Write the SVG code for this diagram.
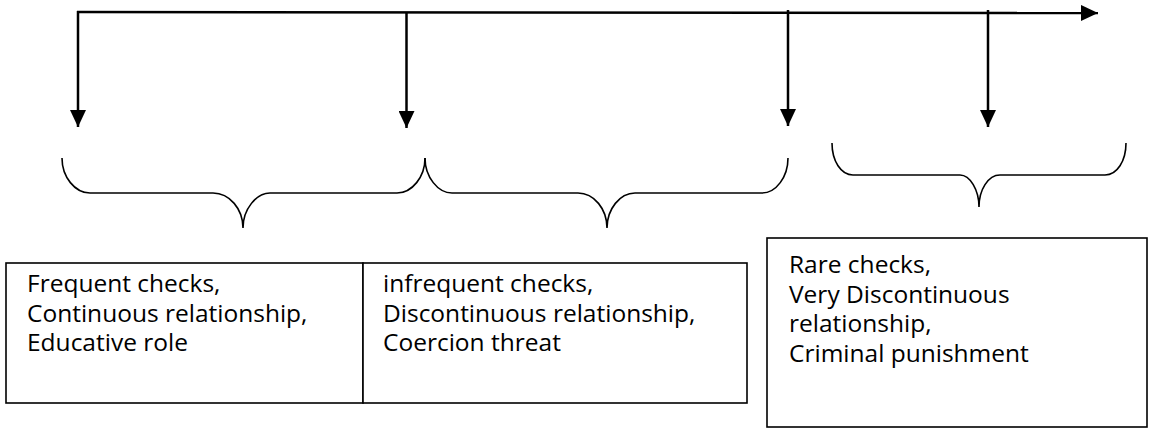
<svg xmlns="http://www.w3.org/2000/svg" width="1151" height="430" viewBox="0 0 1151 430">
  <style>
    .ln { fill: none; stroke: #000; stroke-width: 2.5; }
    .brace { fill: none; stroke: #000; stroke-width: 1.6; }
    .box { fill: #fff; stroke: #000; stroke-width: 1.6; }
    .txt { font-family: "Open Sans", "Noto Sans", sans-serif; font-size: 24.5px; fill: #000; }
  </style>
  <defs>
    <marker id="head" markerUnits="userSpaceOnUse" markerWidth="18" markerHeight="16" refX="17" refY="8" orient="auto">
      <path d="M0,0 L17,8 L0,16 z" fill="#000"/>
    </marker>
  </defs>
  <rect width="1151" height="430" fill="#fff"/>

  <g id="connectors">
    <!-- timeline -->
    <line class="ln" x1="77" y1="12" x2="1098" y2="13" marker-end="url(#head)"/>
    <!-- drop arrows -->
    <line class="ln" x1="78" y1="11" x2="78" y2="127" marker-end="url(#head)"/>
    <line class="ln" x1="406.5" y1="12" x2="406.5" y2="128" marker-end="url(#head)"/>
    <line class="ln" x1="788" y1="10" x2="788" y2="126" marker-end="url(#head)"/>
    <line class="ln" x1="988" y1="10" x2="988" y2="127" marker-end="url(#head)"/>
    <!-- braces -->
    <path class="brace" d="M62,158 C62,177 75,193 90,193 L213,193 C229.5,193 243,209 243,228 C243,209 256.5,193 270,193 L397,193 C412,193 425,177 425,158"/>
    <path class="brace" d="M425,158 C425,177 438,193 452,193 L578,193 C594,193 607,209 607,228 C607,209 620,193 635,193 L762,193 C776,193 788,177 788,158"/>
    <path class="brace" d="M832,143 C832,161 841,175 853,175 L960,175 C970,175 979,190 979,207 C979,190 988,175 1000,175 L1105,175 C1117,175 1126,161 1126,143"/>
  </g>

  <g id="frequent">
    <rect class="box" x="6" y="263" width="357" height="140"/>
    <text class="txt" x="27" y="292">Frequent checks,</text>
    <text class="txt" x="27" y="321.5">Continuous relationship,</text>
    <text class="txt" x="27" y="351">Educative role</text>
  </g>

  <g id="infrequent">
    <rect class="box" x="363" y="263" width="384" height="140"/>
    <text class="txt" x="383" y="292">infrequent checks,</text>
    <text class="txt" x="383" y="321.5">Discontinuous relationship,</text>
    <text class="txt" x="383" y="351">Coercion threat</text>
  </g>

  <g id="rare">
    <rect class="box" x="767" y="238" width="380" height="189"/>
    <text class="txt" x="789" y="273">Rare checks,</text>
    <text class="txt" x="789" y="302.5">Very Discontinuous</text>
    <text class="txt" x="789" y="332">relationship,</text>
    <text class="txt" x="789" y="361.5">Criminal punishment</text>
  </g>
</svg>
